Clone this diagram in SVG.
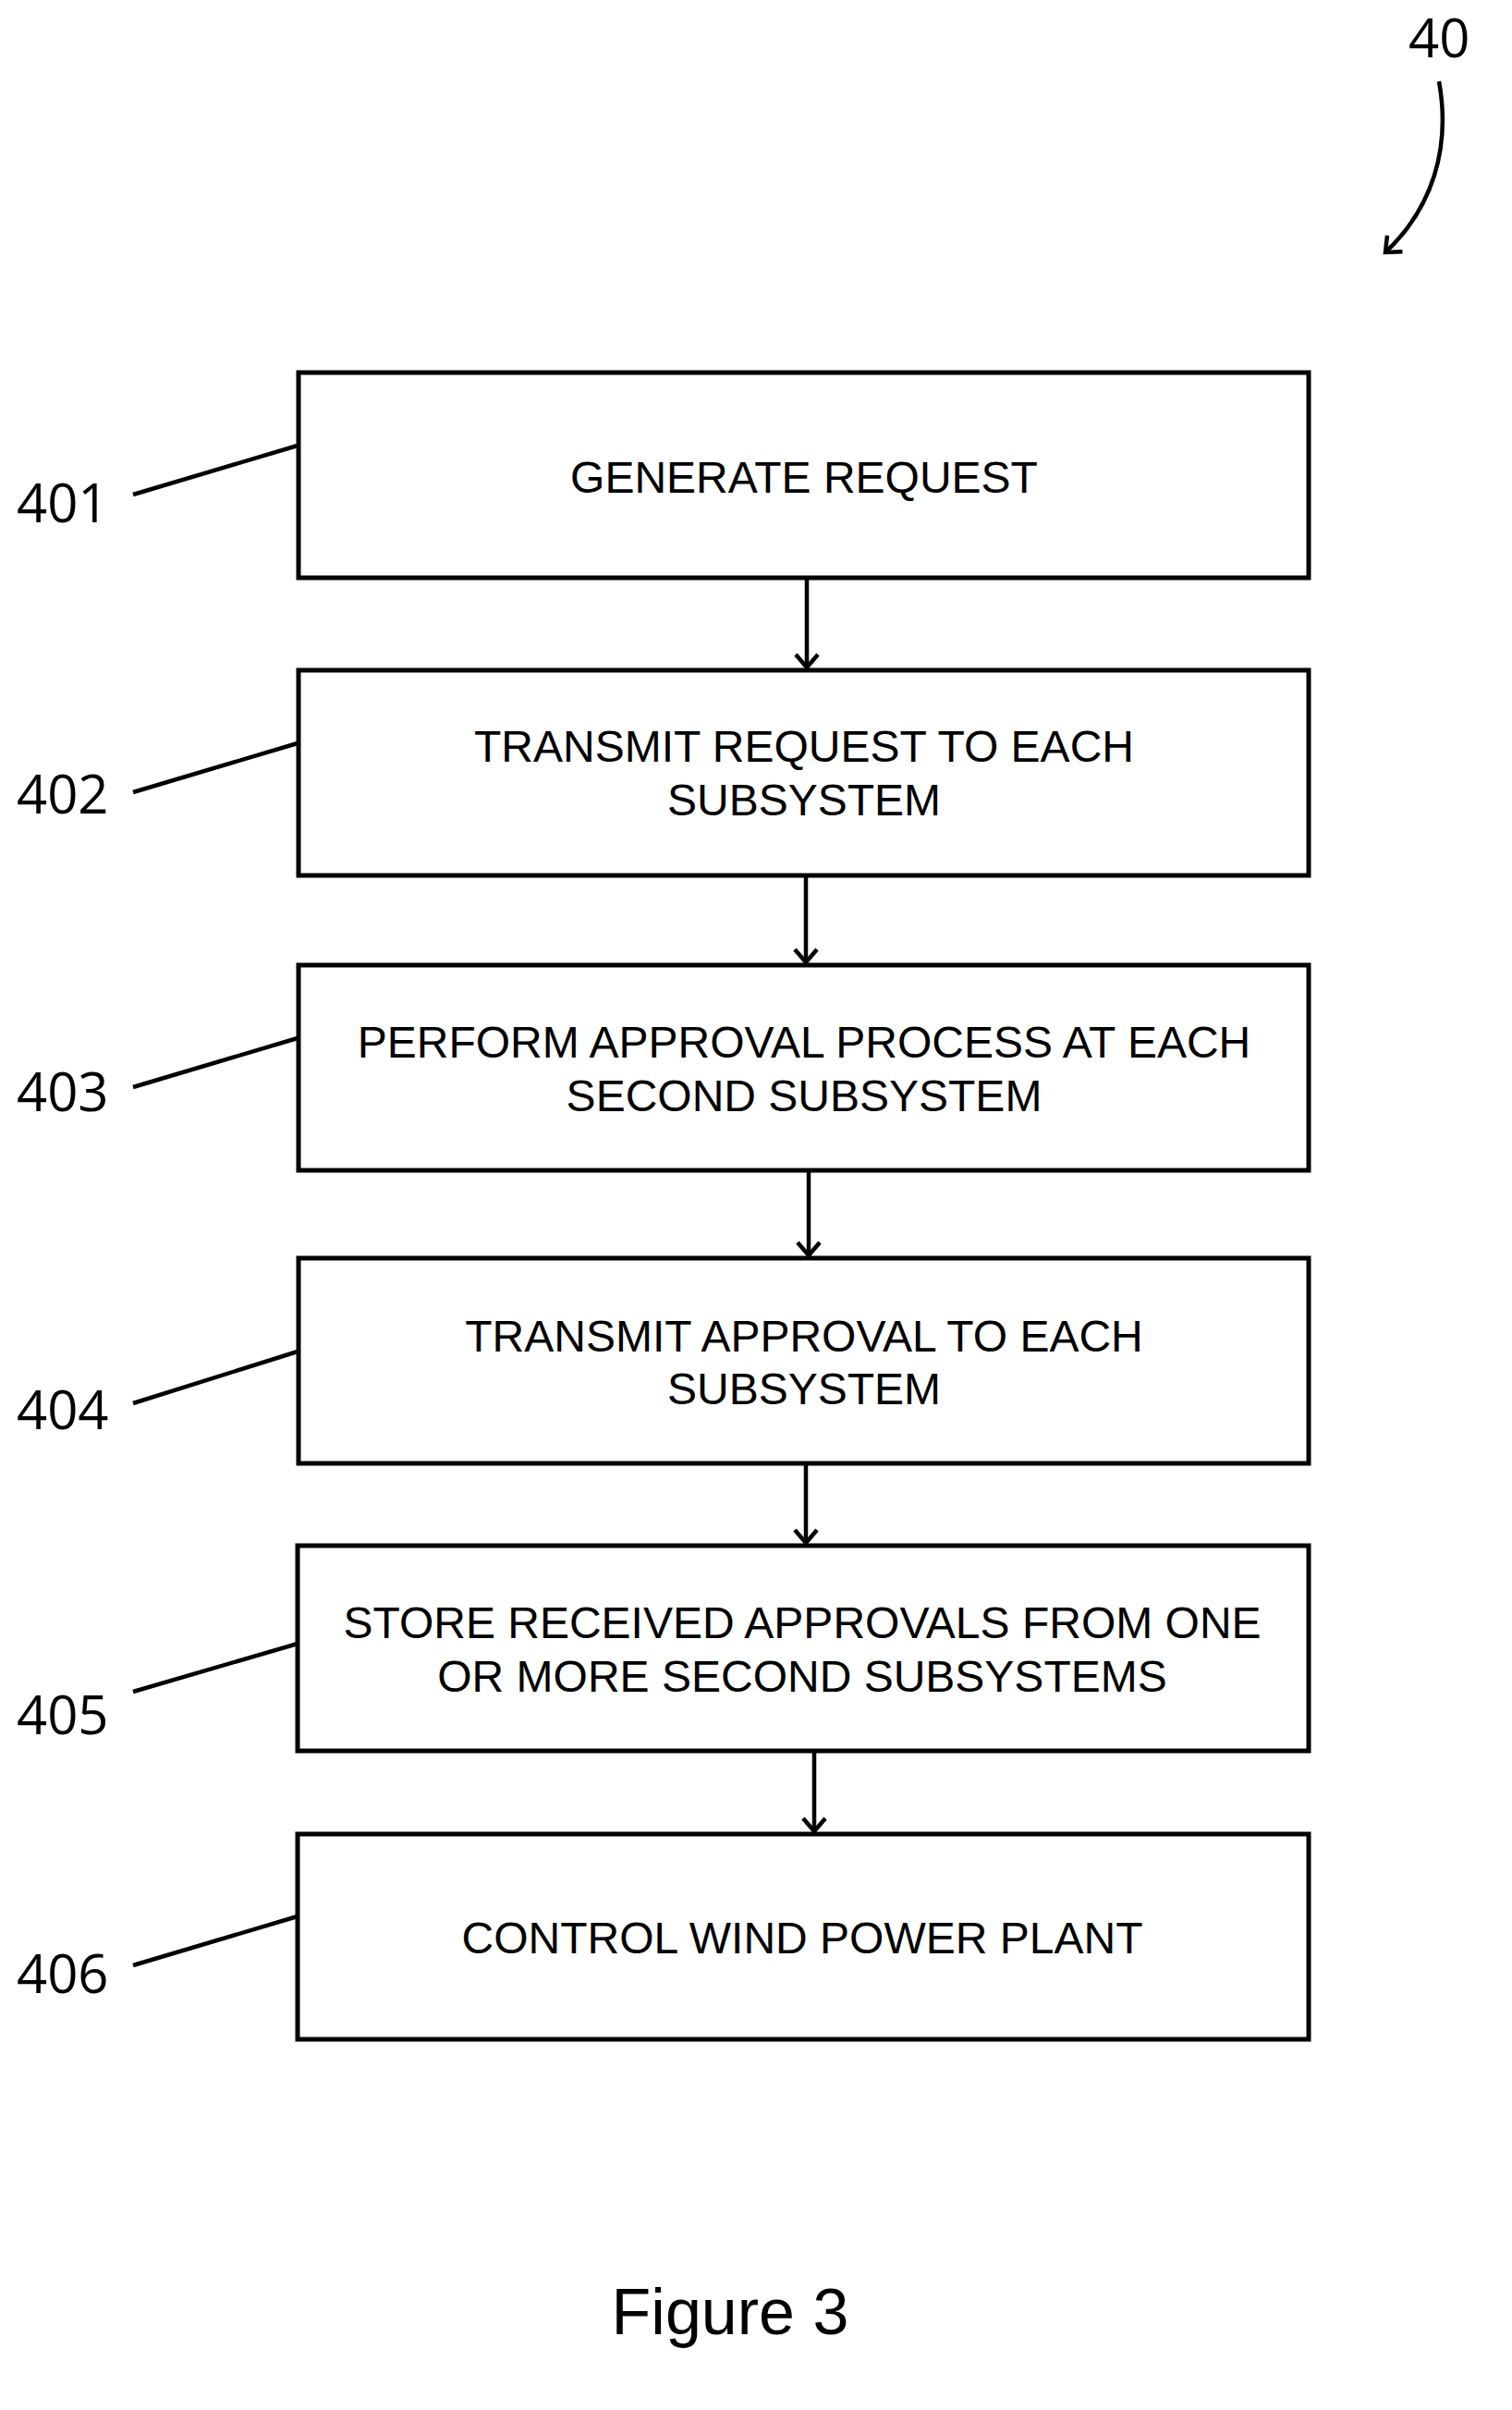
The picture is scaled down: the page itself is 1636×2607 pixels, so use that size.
<svg xmlns="http://www.w3.org/2000/svg" width="1636" height="2607" viewBox="0 0 1636 2607">
<style>
.box{fill:#fff;stroke:#000;stroke-width:5}
.t{font-family:"Liberation Sans",Arial,sans-serif;font-size:48px;text-anchor:middle;dominant-baseline:central}
.n{font-family:"Open Sans","Liberation Sans",sans-serif;font-size:58px}
.l{stroke:#000;stroke-width:4.5;fill:none}
</style>
<defs><marker id="ah" markerWidth="40" markerHeight="40" refX="20" refY="20" orient="auto" markerUnits="userSpaceOnUse" overflow="visible"><path d="M6,8 L20,20 L6,32" fill="none" stroke="#000" stroke-width="4.5"/></marker></defs>
<rect width="1636" height="2607" fill="#fff"/>
<g id="n401"><rect class="box" x="323" y="403" width="1093" height="222"/><text class="t" x="870" y="516">GENERATE REQUEST</text></g>
<g id="n402"><rect class="box" x="323" y="725" width="1093" height="222"/><text class="t" x="870" y="807">TRANSMIT REQUEST TO EACH</text><text class="t" x="870" y="865">SUBSYSTEM</text></g>
<g id="n403"><rect class="box" x="323" y="1044" width="1093" height="222"/><text class="t" x="870" y="1127">PERFORM APPROVAL PROCESS AT EACH</text><text class="t" x="870" y="1185">SECOND SUBSYSTEM</text></g>
<g id="n404"><rect class="box" x="323" y="1361" width="1093" height="222"/><text class="t" x="870" y="1445">TRANSMIT APPROVAL TO EACH</text><text class="t" x="870" y="1502">SUBSYSTEM</text></g>
<g id="n405"><rect class="box" x="322" y="1672" width="1094" height="222"/><text class="t" x="868" y="1755">STORE RECEIVED APPROVALS FROM ONE</text><text class="t" x="868" y="1813">OR MORE SECOND SUBSYSTEMS</text></g>
<g id="n406"><rect class="box" x="322" y="1984" width="1094" height="222"/><text class="t" x="868" y="2096">CONTROL WIND POWER PLANT</text></g>
<g id="labels">
<text class="n" x="18" y="565">401</text><text class="n" x="18" y="880">402</text><text class="n" x="18" y="1202">403</text><text class="n" x="18" y="1546">404</text><text class="n" x="18" y="1876">405</text><text class="n" x="18" y="2156">406</text>
<text class="n" x="1524" y="62">40</text>
<text x="790" y="2525" font-family="Liberation Sans,Arial,sans-serif" font-size="70" text-anchor="middle">Figure 3</text>
</g>
<g id="connectors">
<path class="l" d="M144,535 L322,482 M144,857 L322,804 M144,1176 L322,1123 M144,1518 L322,1462 M144,1830 L322,1778 M144,2126 L322,2073"/>
<path class="l" d="M1557,88 C1570,160 1550,225 1499,273" marker-end="url(#ah)"/>
<path class="l" d="M873,625 V722" marker-end="url(#ah)"/>
<path class="l" d="M872,947 V1041" marker-end="url(#ah)"/>
<path class="l" d="M875,1266 V1358" marker-end="url(#ah)"/>
<path class="l" d="M872,1583 V1669" marker-end="url(#ah)"/>
<path class="l" d="M881,1894 V1981" marker-end="url(#ah)"/>
</g>
</svg>
